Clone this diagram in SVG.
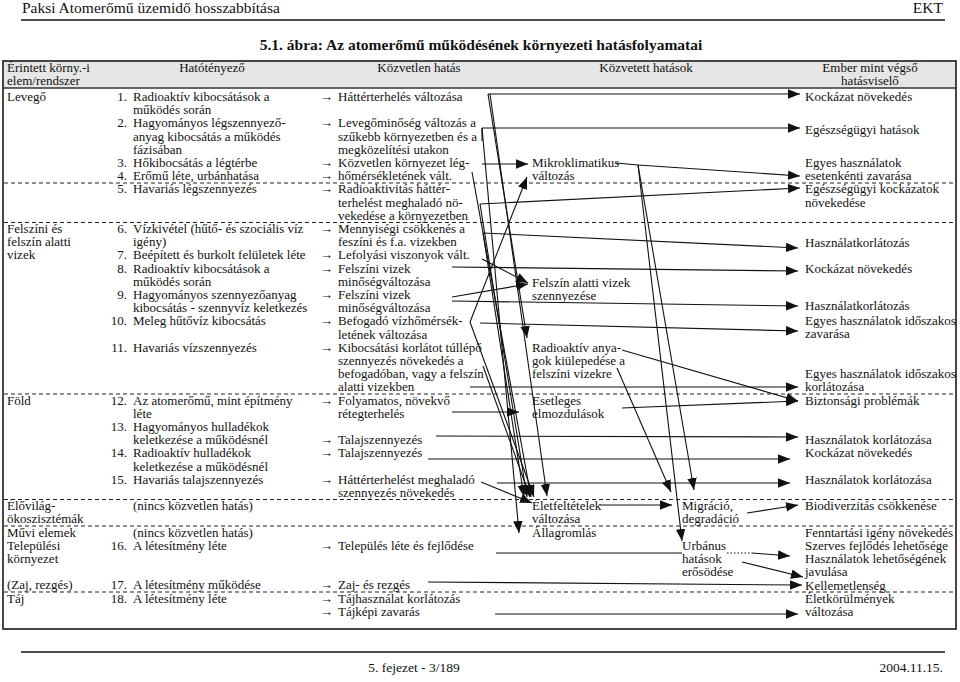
<svg xmlns="http://www.w3.org/2000/svg" width="960" height="682" viewBox="0 0 960 682">
<style>
text{font-family:"Liberation Serif","Times New Roman",serif;font-size:13px;fill:#111}
.c{text-anchor:middle}
.e{text-anchor:end}
.h1{font-size:15.5px}
.tt{font-size:15.5px;font-weight:bold}
.ft{font-size:13.5px}
.ln{stroke:#111;stroke-width:1.1;fill:none}
.ar{stroke:#111;stroke-width:1.1;fill:none;marker-end:url(#ah)}
.dl{stroke:#222;stroke-width:1;stroke-dasharray:4 3}
.dot{stroke:#111;stroke-width:1;stroke-dasharray:1.5 2}
</style>
<defs>
<marker id="ah" markerUnits="userSpaceOnUse" markerWidth="13" markerHeight="10" refX="12" refY="4.75" orient="auto"><path d="M0,0 L12,4.75 L0,9.5 z" fill="#111"/></marker>
</defs>
<rect width="960" height="682" fill="#fff"/>
<g id="page-header">
<text class="h1" x="22" y="13">Paksi Atomerőmű üzemidő hosszabbítása</text>
<text class="h1 e" x="943" y="13">EKT</text>
<line x1="21" y1="20" x2="945" y2="20" stroke="#111" stroke-width="1.3"/>
<text class="tt c" x="481" y="50">5.1. ábra: Az atomerőmű működésének környezeti hatásfolyamatai</text>
</g>
<g id="table">
<rect x="3" y="61" width="953" height="27" fill="#e6e6e6"/>
<line x1="3" y1="88" x2="956" y2="88" stroke="#333" stroke-width="1.3"/>
<rect x="3" y="61" width="953" height="568" fill="none" stroke="#333" stroke-width="1.8"/>
<line class="dl" x1="4" y1="183" x2="955" y2="183"/>
<line class="dl" x1="4" y1="222.5" x2="955" y2="222.5"/>
<line class="dl" x1="4" y1="394" x2="955" y2="394"/>
<line class="dl" x1="4" y1="499.5" x2="955" y2="499.5"/>
<line class="dl" x1="4" y1="526" x2="955" y2="526"/>
<line class="dl" x1="4" y1="592" x2="955" y2="592"/>
</g>
<g id="col-headers">
<text x="7" y="72">Érintett körny.-i</text>
<text x="7" y="85">elem/rendszer</text>
<text class="c" x="212" y="72">Hatótényező</text>
<text class="c" x="419" y="72">Közvetlen hatás</text>
<text class="c" x="646" y="72">Közvetett hatások</text>
<text class="c" x="870" y="72">Ember mint végső</text>
<text class="c" x="870" y="85">hatásviselő</text>
</g>
<g id="elements">
<text x="7" y="101">Levegő</text>
<text x="7" y="233">Felszíni és</text>
<text x="7" y="246.2">felszín alatti</text>
<text x="7" y="259.4">vizek</text>
<text x="7" y="404.6">Föld</text>
<text x="7" y="510.2">Élővilág-</text>
<text x="7" y="523.4">ökoszisztémák</text>
<text x="7" y="536.6">Művi elemek</text>
<text x="7" y="549.8">Települési</text>
<text x="7" y="563">környezet</text>
<text x="7" y="589.4">(Zaj, rezgés)</text>
<text x="7" y="602.6">Táj</text>
</g>
<g id="factors">
<text class="e" x="127" y="101">1.</text><text x="133" y="101">Radioaktív kibocsátások a</text><text x="133" y="114.2">működés során</text>
<text class="e" x="127" y="127.4">2.</text><text x="133" y="127.4">Hagyományos légszennyező-</text><text x="133" y="140.6">anyag kibocsátás a működés</text><text x="133" y="153.8">fázisában</text>
<text class="e" x="127" y="167">3.</text><text x="133" y="167">Hőkibocsátás a légtérbe</text>
<text class="e" x="127" y="180.2">4.</text><text x="133" y="180.2">Erőmű léte, urbánhatása</text>
<text class="e" x="127" y="193.4">5.</text><text x="133" y="193.4">Havariás légszennyezés</text>
<text class="e" x="127" y="233">6.</text><text x="133" y="233">Vízkivétel (hűtő- és szociális víz</text><text x="133" y="246.2">igény)</text>
<text class="e" x="127" y="259.4">7.</text><text x="133" y="259.4">Beépített és burkolt felületek léte</text>
<text class="e" x="127" y="272.6">8.</text><text x="133" y="272.6">Radioaktív kibocsátások a</text><text x="133" y="285.8">működés során</text>
<text class="e" x="127" y="299">9.</text><text x="133" y="299">Hagyományos szennyezőanyag</text><text x="133" y="312.2">kibocsátás - szennyvíz keletkezés</text>
<text class="e" x="127" y="325.4">10.</text><text x="133" y="325.4">Meleg hűtővíz kibocsátás</text>
<text class="e" x="127" y="351.8">11.</text><text x="133" y="351.8">Havariás vízszennyezés</text>
<text class="e" x="127" y="404.6">12.</text><text x="133" y="404.6">Az atomerőmű, mint építmény</text><text x="133" y="417.8">léte</text>
<text class="e" x="127" y="431">13.</text><text x="133" y="431">Hagyományos hulladékok</text><text x="133" y="444.2">keletkezése a működésnél</text>
<text class="e" x="127" y="457.4">14.</text><text x="133" y="457.4">Radioaktív hulladékok</text><text x="133" y="470.6">keletkezése a működésnél</text>
<text class="e" x="127" y="483.8">15.</text><text x="133" y="483.8">Havariás talajszennyezés</text>
<text x="133" y="510.2">(nincs közvetlen hatás)</text>
<text x="133" y="536.6">(nincs közvetlen hatás)</text>
<text class="e" x="127" y="549.8">16.</text><text x="133" y="549.8">A létesítmény léte</text>
<text class="e" x="127" y="589.4">17.</text><text x="133" y="589.4">A létesítmény működése</text>
<text class="e" x="127" y="602.6">18.</text><text x="133" y="602.6">A létesítmény léte</text>
</g>
<g id="direct">
<text x="320" y="101">→</text><text x="338" y="101">Háttérterhelés változása</text>
<text x="320" y="127.4">→</text><text x="338" y="127.4">Levegőminőség változás a</text><text x="338" y="140.6">szűkebb környezetben és a</text><text x="338" y="153.8">megközelítési utakon</text>
<text x="320" y="167">→</text><text x="338" y="167">Közvetlen környezet lég-</text>
<text x="320" y="180.2">→</text><text x="338" y="180.2">hőmérsékletének vált.</text>
<text x="320" y="193.4">→</text><text x="338" y="193.4">Radioaktivitás háttér-</text><text x="338" y="206.6">terhelést meghaladó nö-</text><text x="338" y="219.8">vekedése a környezetben</text>
<text x="320" y="233">→</text><text x="338" y="233">Mennyiségi csökkenés a</text><text x="338" y="246.2">feszíni és f.a. vizekben</text>
<text x="320" y="259.4">→</text><text x="338" y="259.4">Lefolyási viszonyok vált.</text>
<text x="320" y="272.6">→</text><text x="338" y="272.6">Felszíni vizek</text><text x="338" y="285.8">minőségváltozása</text>
<text x="320" y="299">→</text><text x="338" y="299">Felszíni vizek</text><text x="338" y="312.2">minőségváltozása</text>
<text x="320" y="325.4">→</text><text x="338" y="325.4">Befogadó vízhőmérsék-</text><text x="338" y="338.6">letének változása</text>
<text x="320" y="351.8">→</text><text x="338" y="351.8">Kibocsátási korlátot túllépő</text><text x="338" y="365">szennyezés növekedés a</text><text x="338" y="378.2">befogadóban, vagy a felszín</text><text x="338" y="391.4">alatti vizekben</text>
<text x="320" y="404.6">→</text><text x="338" y="404.6">Folyamatos, növekvő</text><text x="338" y="417.8">rétegterhelés</text>
<text x="320" y="444.2">→</text><text x="338" y="444.2">Talajszennyezés</text>
<text x="320" y="457.4">→</text><text x="338" y="457.4">Talajszennyezés</text>
<text x="320" y="483.8">→</text><text x="338" y="483.8">Háttérterhelést meghaladó</text><text x="338" y="497">szennyezés növekedés</text>
<text x="320" y="549.8">→</text><text x="338" y="549.8">Település léte és fejlődése</text>
<text x="320" y="589.4">→</text><text x="338" y="589.4">Zaj- és rezgés</text>
<text x="320" y="602.6">→</text><text x="338" y="602.6">Tájhasználat korlátozás</text>
<text x="320" y="615.8">→</text><text x="338" y="615.8">Tájképi zavarás</text>
</g>
<g id="indirect">
<g id="n-mikro"><text x="532" y="167">Mikroklimatikus</text><text x="532" y="180">változás</text></g>
<g id="n-felszinalatti"><text x="532" y="287">Felszín alatti vizek</text><text x="532" y="300">szennyezése</text></g>
<g id="n-radioaktiv"><text x="532" y="352">Radioaktív anya-</text><text x="532" y="365">gok kiülepedése a</text><text x="532" y="378">felszíni vizekre</text></g>
<g id="n-esetleges"><text x="532" y="405">Esetleges</text><text x="532" y="418">elmozdulások</text></g>
<g id="n-eletfeltetelek"><text x="532" y="510">Életfeltételek</text><text x="532" y="523">változása</text></g>
<g id="n-allagromlas"><text x="532" y="537">Állagromlás</text></g>
<g id="n-migracio"><text x="682" y="510">Migráció,</text><text x="682" y="523">degradáció</text></g>
<g id="n-urbanus"><text x="682" y="550">Urbánus</text><text x="682" y="563">hatások</text><text x="682" y="576">erősödése</text></g>
</g>
<g id="human">
<text x="805" y="101">Kockázat növekedés</text>
<text x="805" y="134">Egészségügyi hatások</text>
<text x="805" y="167">Egyes használatok</text><text x="805" y="180">esetenkénti zavarása</text>
<text x="805" y="193">Egészségügyi kockázatok</text><text x="805" y="207">növekedése</text>
<text x="805" y="247">Használatkorlátozás</text>
<text x="805" y="273">Kockázat növekedés</text>
<text x="805" y="310">Használatkorlátozás</text>
<text x="805" y="325">Egyes használatok időszakos</text><text x="805" y="338">zavarása</text>
<text x="805" y="378">Egyes használatok időszakos</text><text x="805" y="391">korlátozása</text>
<text x="805" y="405">Biztonsági problémák</text>
<text x="805" y="444">Használatok korlátozása</text>
<text x="805" y="457">Kockázat növekedés</text>
<text x="805" y="484">Használatok korlátozása</text>
<text x="805" y="510">Biodiverzitás csökkenése</text>
<text x="805" y="537">Fenntartási igény növekedés</text>
<text x="805" y="550">Szerves fejlődés lehetősége</text>
<text x="805" y="563">Használatok lehetőségének</text><text x="805" y="576">javulása</text>
<text x="805" y="590">Kellemetlenség</text>
<text x="805" y="603">Életkörülmények</text><text x="805" y="616">változása</text>
</g>
<g id="connectors">
<path class="ar" d="M488,94 L800,94"/>
<path class="ar" d="M482,128 L800,128"/>
<path class="ln" d="M482,128 L482,141"/>
<path class="ar" d="M482,164 L528,164"/>
<path class="ar" d="M638,165 L800,176"/>
<path class="ln" d="M638,165 L616,163"/>
<path class="ar" d="M480,204 L800,188"/>
<path class="ar" d="M483,233 L798,248"/>
<path class="ar" d="M482,259 L528,283"/>
<path class="ar" d="M452,267 L798,271"/>
<path class="ar" d="M452,297 L528,284"/>
<path class="ar" d="M452,301 L798,306"/>
<path class="ar" d="M480,323 L798,331"/>
<path class="ar" d="M470,387 L798,387"/>
<path class="ar" d="M452,412 L519,412"/>
<path class="ar" d="M622,408 L798,401"/>
<path class="ar" d="M622,350 L798,401"/>
<path class="ar" d="M436,436 L798,437"/>
<path class="ar" d="M428,459 L790,459"/>
<path class="ar" d="M497,483 L790,483"/>
<path class="ar" d="M481,482 L532,503"/>
<path class="ar" d="M600,505 L672,505"/>
<path class="ar" d="M747,513 L798,505"/>
<path class="ln" d="M496,553 L682,553"/>
<path class="dot" d="M727,553 L752,553"/>
<path class="ar" d="M752,553 L790,556"/>
<path class="ar" d="M742,562 L803,577"/>
<path class="ar" d="M428,582 L802,585"/>
<path class="ar" d="M495,614 L798,614"/>
<path class="ar" d="M488,94 L527,338"/>
<path class="ar" d="M490,94 L547,496"/>
<path class="ar" d="M482,128 L519,533"/>
<path class="ar" d="M472,172 L531,497"/>
<path class="ar" d="M480,204 L527,497"/>
<path class="ar" d="M483,233 L524,497"/>
<path class="ar" d="M470,322 L527,177"/>
<path class="ar" d="M470,322 L534,497"/>
<path class="ar" d="M483,366 L530,497"/>
<path class="ar" d="M638,165 L694,490"/>
<path class="ar" d="M638,165 L682,541"/>
<path class="ar" d="M617,368 L671,492"/>
</g>
<g id="page-footer">
<line x1="21" y1="652" x2="945" y2="652" stroke="#111" stroke-width="1.3"/>
<text class="ft c" x="414" y="672">5. fejezet - 3/189</text>
<text class="ft e" x="943" y="672">2004.11.15.</text>
</g>
</svg>
